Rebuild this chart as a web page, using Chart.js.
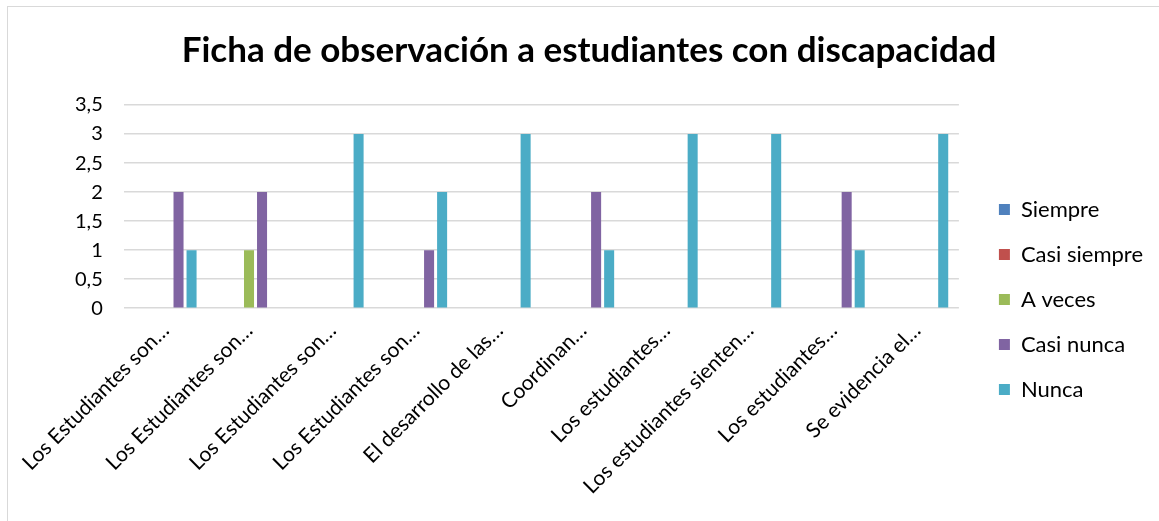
<!DOCTYPE html>
<html>
<head>
<meta charset="utf-8">
<script src="https://cdn.jsdelivr.net/npm/chart.js@4"></script>
<style>
  html, body { margin: 0; padding: 0; background: #fff; overflow: hidden; }
  .frame { position: absolute; left: 7px; top: 6px; width: 1170px; height: 540px; border: 1px solid #d9d9d9; }
  .wrap { position: absolute; left: 0; top: 0; width: 1159px; height: 521px; }
</style>
</head>
<body>
<div class="frame"></div>
<div class="wrap"><canvas id="chart" width="1159" height="521"></canvas></div>
<script>
// categories (truncated as in the original)
const categories = [
  'Los Estudiantes son…',
  'Los Estudiantes son…',
  'Los Estudiantes son…',
  'Los Estudiantes son…',
  'El desarrollo de las…',
  'Coordinan…',
  'Los estudiantes…',
  'Los estudiantes sienten…',
  'Los estudiantes…',
  'Se evidencia el…',
];

const siempre = [0, 0, 0, 0, 0, 0, 0, 0, 0, 0];
const casiSiempre = [0, 0, 0, 0, 0, 0, 0, 0, 0, 0];
const aVeces = [0, 1, 0, 0, 0, 0, 0, 0, 0, 0];
const casiNunca = [2, 2, 0, 1, 0, 2, 0, 0, 2, 0];
const nunca = [1, 0, 3, 2, 3, 1, 3, 3, 1, 3];

const yTicks = [0, 0.5, 1, 1.5, 2, 2.5, 3, 3.5];

const font = "Lato, 'Open Sans', sans-serif";

const ds = (label, data, color) => ({
  label: label,
  data: data,
  backgroundColor: color,
  borderWidth: 0,
  categoryPercentage: 0.78,
  barPercentage: 0.77,
});

// nudge legend and title to where the original has them
const boxShift = {
  id: 'boxShift',
  afterLayout(chart) {
    const l = chart.legend;
    l.top += 39; l.bottom += 39;
    l.left += 17; l.right += 17;
    const t = chart.titleBlock;
    t.left -= 6; t.right -= 6;
  },
};

new Chart(document.getElementById('chart'), {
  type: 'bar',
  data: {
    labels: categories,
    datasets: [
      ds('Siempre', siempre, '#4F81BD'),
      ds('Casi siempre', casiSiempre, '#C0504D'),
      ds('A veces', aVeces, '#9BBB59'),
      ds('Casi nunca', casiNunca, '#8064A2'),
      ds('Nunca', nunca, '#4BACC6'),
    ],
  },
  plugins: [boxShift],
  options: {
    responsive: false,
    animation: false,
    layout: { padding: { left: 54, right: 23, top: 20, bottom: 20 } },
    plugins: {
      title: {
        display: true,
        text: 'Ficha de observación a estudiantes con discapacidad',
        color: '#000',
        font: { family: font, size: 35, weight: 'bold' },
        padding: { top: 10, bottom: 33 },
      },
      legend: {
        position: 'right',
        labels: {
          color: '#000',
          font: { family: font, size: 22 },
          boxWidth: 11,
          boxHeight: 11,
          padding: 23,
        },
      },
      tooltip: { enabled: false },
    },
    scales: {
      x: {
        grid: { display: false },
        border: { display: false },
        afterFit: (scale) => { scale.paddingLeft = 0; },
        ticks: {
          color: '#000',
          font: { family: font, size: 21 },
          maxRotation: 45,
          minRotation: 45,
          autoSkip: false,
          padding: 2,
        },
      },
      y: {
        min: 0,
        max: 3.5,
        afterBuildTicks: (axis) => { axis.ticks = yTicks.map((v) => ({ value: v })); },
        grid: { color: '#d9d9d9', lineWidth: 1.5, drawTicks: false },
        border: { display: false },
        ticks: {
          color: '#000',
          font: { family: font, size: 20 },
          padding: 21,
          callback: (v) => String(v).replace('.', ','),
        },
      },
    },
  },
});
</script>
</body>
</html>
